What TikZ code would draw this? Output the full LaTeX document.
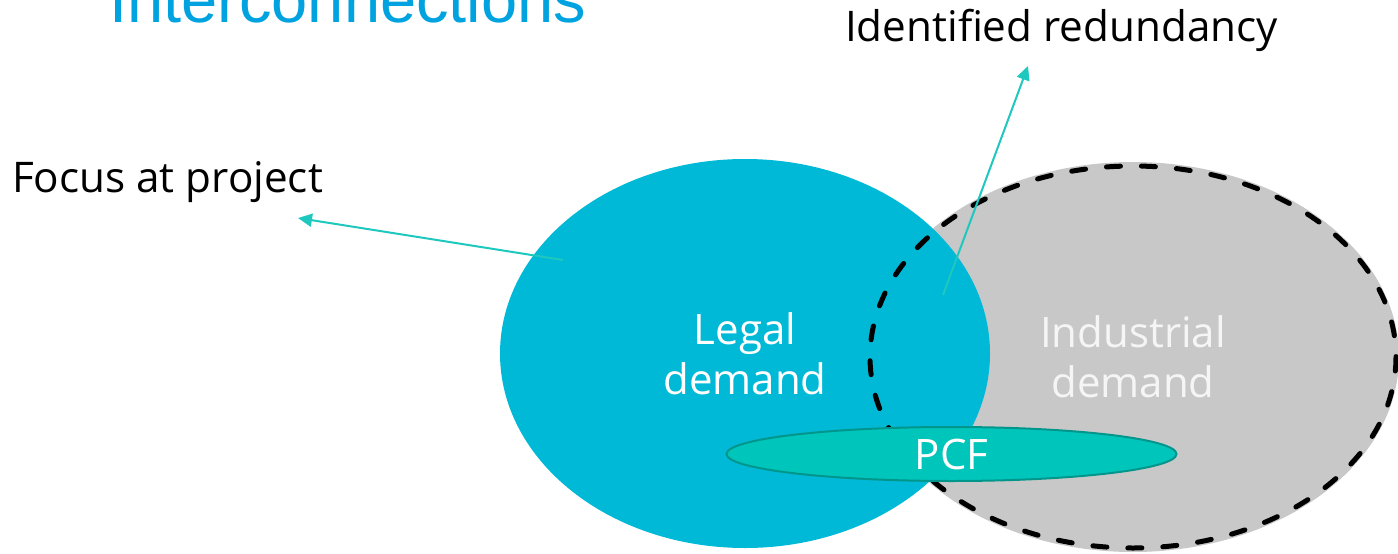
\documentclass[tikz,border=0pt]{standalone}
\usepackage{fontspec}
\setmainfont{Open Sans}
\newfontfamily\titlefont{Liberation Sans}
\usetikzlibrary{shapes.geometric,arrows.meta}

\definecolor{legalblue}{RGB}{0,185,214}
\definecolor{industrygray}{RGB}{200,200,200}
\definecolor{pcffill}{RGB}{0,197,186}
\definecolor{pcfedge}{RGB}{0,150,140}
\definecolor{pointer}{RGB}{30,200,190}
\definecolor{titleblue}{RGB}{0,163,224}
\definecolor{softwhite}{RGB}{245,245,245}

\tikzset{
  setellipse/.style={ellipse, inner sep=0pt, align=center, font=\fontsize{42}{50}\selectfont},
  scopeline/.style={draw=black, line width=5pt, line cap=round, dash pattern=on 14pt off 21pt},
  pointerline/.style={draw=pointer, line width=2pt, -{Triangle[length=14pt,width=13pt]}},
  caption/.style={anchor=base west, inner sep=0pt, font=\fontsize{42.2}{50}\selectfont},
}

\begin{document}
\begin{tikzpicture}[x=1pt,y=-1pt]
  \useasboundingbox (0,0) rectangle (1398,554);
  \clip (0,0) rectangle (1398,554);

  % title line, partly above the top edge
  \node[anchor=base west, inner sep=0pt, text=titleblue,
        font=\titlefont\fontsize{65}{70}\selectfont] (title) at (109,23) {Interconnections};

  % the two demand sets
  \node[setellipse, fill=industrygray, text=softwhite,
        minimum width=532pt, minimum height=390pt] (industrial) at (1133,357) {Industrial\\demand};
  \node[setellipse, fill=legalblue, text=white,
        minimum width=490pt, minimum height=389pt] (legal) at (745,353.5) {Legal\\demand};

  % dashed boundary of the industrial set, over both fills
  \draw[scopeline] (industrial.center) ellipse [x radius=263, y radius=191];

  % product carbon footprint overlap
  \node[ellipse, inner sep=0pt, fill=pcffill, draw=pcfedge, line width=2pt,
        minimum width=450pt, minimum height=54pt] (pcf) at (951.5,454) {};
  \node[font=\fontsize{42}{50}\selectfont, text=white, inner sep=0pt] (pcflabel) at (pcf.center) {PCF};

  % annotations
  \node[caption] (focus) at (12,192) {Focus at project};
  \node[caption] (redundancy) at (845,41) {Identified redundancy};

  \coordinate (focusstart) at (563,260);
  \coordinate (focustip) at (298,218);
  \coordinate (redstart) at (943,295);
  \coordinate (redtip) at (1028,66);

  \draw[pointerline] (focusstart) -- (focustip);
  \draw[pointerline] (redstart) -- (redtip);
\end{tikzpicture}
\end{document}
